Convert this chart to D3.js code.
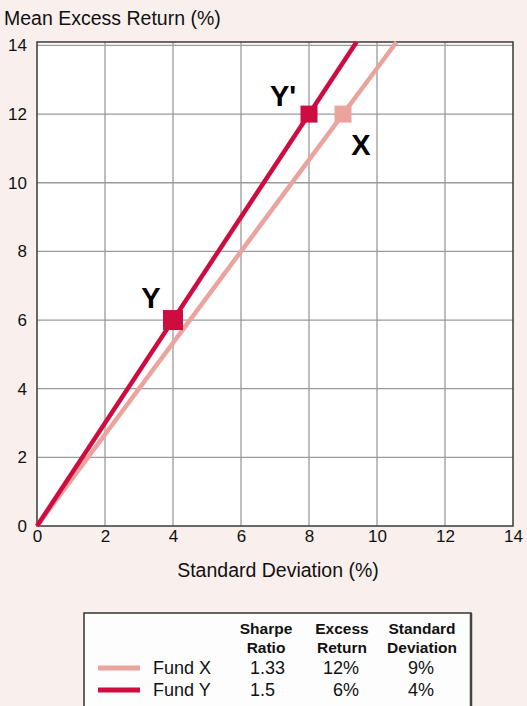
<!DOCTYPE html>
<html>
<head>
<meta charset="utf-8">
<script src="https://cdn.jsdelivr.net/npm/d3@7"></script>
<style>
html,body{margin:0;padding:0;background:#f9efed;}
svg{display:block;font-family:"Liberation Sans",Arial,sans-serif;}
</style>
</head>
<body>
<div id="chart"></div>
<script>
(function(){

const width = 527;
const height = 706;
const margin = {top:42,right:14,bottom:180,left:37};

// data
const funds = ["Fund X","Fund Y"];
const sharpe = [1.3333,1.5];
const excessReturn = [12,6];
const stdDev = [9,4];
const sharpeLabels = ["1.33","1.5"];
const returnLabels = ["12%","6%"];
const stdLabels = ["9%","4%"];
const colors = ["#eaa39d","#cf0c40"];
const xTicks = [0,2,4,6,8,10,12,14];
const yTicks = [0,2,4,6,8,10,12,14];
const pointNames = ["X","Y","Y'"];
const pointSd = [9,4,8];
const pointRet = [12,6,12];
const pointFund = [0,1,1];

const svg = d3.select("#chart")
.append("svg")
.attr("width",width)
.attr("height",height);

const x = d3.scaleLinear()
.domain([0,14])
.range([margin.left,width-margin.right]);

const y = d3.scaleLinear()
.domain([0,14.1])
.range([height-margin.bottom,margin.top]);

// plot area
svg.append("rect")
.attr("x",x(0)).attr("y",y(14.1))
.attr("width",x(14)-x(0)).attr("height",y(0)-y(14.1))
.attr("fill","#fff");

// grid
svg.append("g")
.selectAll("line")
.data(xTicks.slice(1,-1))
.join("line")
.attr("x1",d=>x(d)).attr("x2",d=>x(d))
.attr("y1",y(0)).attr("y2",y(14.1))
.attr("stroke","#9a9a9a").attr("stroke-width",1.3);

svg.append("g")
.selectAll("line")
.data(yTicks.slice(1))
.join("line")
.attr("x1",x(0)).attr("x2",x(14))
.attr("y1",d=>y(d)).attr("y2",d=>y(d))
.attr("stroke","#9a9a9a").attr("stroke-width",1.3);

// frame
svg.append("rect")
.attr("x",x(0)).attr("y",y(14.1))
.attr("width",x(14)-x(0)).attr("height",y(0)-y(14.1))
.attr("fill","none")
.attr("stroke","#3a3a3a").attr("stroke-width",1.5);

// axes
const xAxis = svg.append("g")
.attr("transform",`translate(0,${y(0)})`)
.call(d3.axisBottom(x).tickValues(xTicks).tickSize(0).tickPadding(4));
xAxis.select(".domain").remove();
xAxis.selectAll("text").attr("font-size","17px").attr("fill","#111");

const yAxis = svg.append("g")
.attr("transform",`translate(${x(0)},0)`)
.call(d3.axisLeft(y).tickValues(yTicks).tickSize(0).tickPadding(10));
yAxis.select(".domain").remove();
yAxis.selectAll("text").attr("font-size","17px").attr("fill","#111");

// lines from origin with slope = sharpe ratio
const clipTop = 14.1;
const line = d3.line().x(d=>x(d[0])).y(d=>y(d[1]));

// draw X first, Y on top
[0,1].forEach(i=>{
  svg.append("path")
  .datum([[0,0],[clipTop/sharpe[i],clipTop]])
  .attr("fill","none")
  .attr("stroke",colors[i])
  .attr("stroke-width",4.5)
  .attr("d",line);
});

// points
const sizes = [17,20,17];
svg.append("g")
.selectAll("rect")
.data(pointNames)
.join("rect")
.attr("x",(d,i)=>x(pointSd[i])-sizes[i]/2)
.attr("y",(d,i)=>y(pointRet[i])-sizes[i]/2)
.attr("width",(d,i)=>sizes[i])
.attr("height",(d,i)=>sizes[i])
.attr("fill",(d,i)=>colors[pointFund[i]]);

// point labels
const labelDx = [18,-22,-26];
const labelDy = [41,-12,-8];
svg.append("g")
.selectAll("text")
.data(pointNames)
.join("text")
.attr("x",(d,i)=>x(pointSd[i])+labelDx[i])
.attr("y",(d,i)=>y(pointRet[i])+labelDy[i])
.attr("text-anchor","middle")
.attr("font-size","29px")
.attr("font-weight","bold")
.attr("fill","#000")
.text(d=>d);

// axis titles
svg.append("text")
.attr("x",4)
.attr("y",25)
.attr("font-size","19.5px")
.attr("fill","#111")
.text("Mean Excess Return (%)");

svg.append("text")
.attr("x",278)
.attr("y",577)
.attr("text-anchor","middle")
.attr("font-size","19.5px")
.attr("fill","#111")
.text("Standard Deviation (%)");

// legend table
const lg = svg.append("g");
lg.append("rect")
.attr("x",84).attr("y",613)
.attr("width",387).attr("height",110)
.attr("fill","#fdfdfd")
.attr("stroke","#333").attr("stroke-width",1.5);
lg.append("line")
.attr("x1",471).attr("x2",471).attr("y1",613).attr("y2",706)
.attr("stroke","#444").attr("stroke-width",2.5);

const heads = [["Sharpe","Ratio",266],["Excess","Return",342],["Standard","Deviation",422]];
heads.forEach(h=>{
  [0,1].forEach(k=>{
    lg.append("text")
    .attr("x",h[2]).attr("y",634+k*18.5)
    .attr("text-anchor","middle")
    .attr("font-size","15.5px")
    .attr("font-weight","bold")
    .attr("fill","#111")
    .text(h[k]);
  });
});

const rowY = [674,696];
funds.forEach((f,i)=>{
  lg.append("line")
  .attr("x1",98).attr("x2",140)
  .attr("y1",rowY[i]-6).attr("y2",rowY[i]-6)
  .attr("stroke",colors[i]).attr("stroke-width",5);
  lg.append("text").attr("x",153).attr("y",rowY[i])
  .attr("font-size","18px").attr("fill","#111").text(f);
  lg.append("text").attr("x",250).attr("y",rowY[i])
  .attr("font-size","18px").attr("fill","#111").text(sharpeLabels[i]);
  lg.append("text").attr("x",359).attr("y",rowY[i])
  .attr("text-anchor","end")
  .attr("font-size","18px").attr("fill","#111").text(returnLabels[i]);
  lg.append("text").attr("x",421).attr("y",rowY[i])
  .attr("text-anchor","middle")
  .attr("font-size","18px").attr("fill","#111").text(stdLabels[i]);
});

})();
</script>
</body>
</html>
